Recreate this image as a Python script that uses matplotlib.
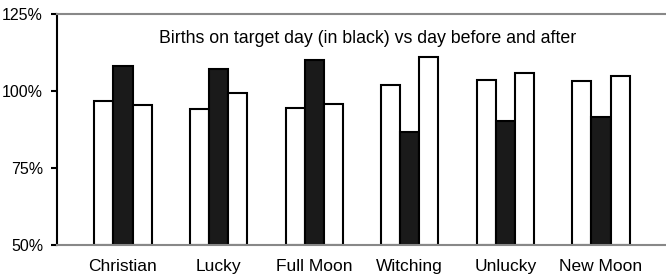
import numpy as np
import matplotlib.pyplot as plt

plt.rcParams['font.family'] = ['Liberation Sans', 'DejaVu Sans']

categories = ['Christian', 'Lucky', 'Full Moon', 'Witching', 'Unlucky', 'New Moon']
day_before = [96.8, 94.2, 94.6, 101.8, 103.5, 103.3]
target_day = [108.1, 107.1, 110.1, 86.8, 90.4, 91.5]
day_after = [95.6, 99.3, 95.7, 111.1, 105.8, 104.9]
yticks = [50, 75, 100, 125]

fig = plt.figure(figsize=(6.66, 2.8), dpi=100)
ax = fig.add_axes([0.0856, 0.125, 0.9144, 0.825])

x = np.arange(len(categories))
w = 0.2
ax.bar(x - w, np.array(day_before) - 50, w, bottom=50, color='white', edgecolor='black', linewidth=1.5)
ax.bar(x, np.array(target_day) - 50, w, bottom=50, color='#1a1a1a', edgecolor='black', linewidth=1.5)
ax.bar(x + w, np.array(day_after) - 50, w, bottom=50, color='white', edgecolor='black', linewidth=1.5)

ax.set_ylim(50, 125)
ax.set_xlim(-0.69, 5.68)
ax.set_yticks(yticks)
ax.set_yticklabels([f'{v}%' for v in yticks], fontsize=11.5)
ax.set_xticks(x)
ax.set_xticklabels(categories, fontsize=12.5)
ax.tick_params(axis='x', length=0, pad=10)
ax.tick_params(axis='y', length=4, width=1.5, direction='out', pad=6)

ax.spines['right'].set_visible(False)
ax.spines['left'].set_color('black')
ax.spines['left'].set_linewidth(1.5)
for s in ['top', 'bottom']:
    ax.spines[s].set_color('#888888')
    ax.spines[s].set_linewidth(1.5)

ax.text(0.51, 0.893, 'Births on target day (in black) vs day before and after',
        transform=ax.transAxes, ha='center', va='center', fontsize=12.8)

fig.savefig('out.png', dpi=100)
